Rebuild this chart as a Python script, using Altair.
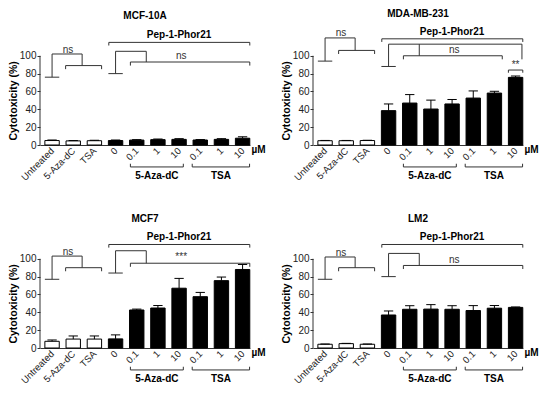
import json
import altair as alt
import pandas as pd

# ---------------- data ----------------
categories = ["Untreated", "5-Aza-dC", "TSA", "0", "0.1", "1", "10", "0.1", "1", "10"]
treated = [False, False, False, True, True, True, True, True, True, True]

mcf10a_vals = [5.0, 4.6, 4.8, 5.0, 5.5, 6.0, 6.3, 5.6, 6.3, 7.6]
mcf10a_errs = [0.6, 0.4, 0.5, 0.6, 0.5, 0.7, 0.8, 0.5, 0.8, 1.6]

mda_vals = [4.8, 4.8, 5.0, 38.5, 47.0, 40.3, 46.0, 52.6, 58.2, 75.8]
mda_errs = [0.3, 0.3, 0.3, 7.5, 9.5, 10.0, 5.0, 8.0, 2.0, 1.5]

mcf7_vals = [7.5, 10.0, 10.0, 10.2, 42.6, 44.8, 67.0, 57.5, 75.5, 88.0]
mcf7_errs = [1.5, 3.5, 3.5, 4.5, 1.0, 2.8, 11.0, 4.8, 4.0, 5.6]

lm2_vals = [4.2, 4.9, 4.2, 37.0, 43.4, 43.6, 43.4, 42.0, 44.6, 45.5]
lm2_errs = [0.3, 0.3, 0.3, 4.5, 4.0, 5.0, 4.0, 5.5, 3.0, 0.5]

# significance bracket heights (y units): [low, top, group] / [low, top, group, pep]
mcf10a_left = [76, 102, 89]
mcf10a_right = [80, 105, 93, 115]
mda_left = [94, 120, 106]
mda_right = [88, 113, 100, 119]
mcf7_left = [77, 103, 90]
mcf7_right = [84, 109, 95, 116]
lm2_left = [77, 102, 90]
lm2_right = [80, 106, 92.5, 116]

group_labels = ["5-Aza-dC", "TSA"]
pep_label = "Pep-1-Phor21"
unit_label = "µM"

# ---------------- layout ----------------
W, H = 210, 116
XD = [-0.57, 9.35]
YD = [0, 130]
HB = 0.34          # half bar width (in category units)
FONT = "Liberation Sans"
LINE = "#333333"

label_expr = json.dumps(categories) + "[datum.value]"

xs = alt.Scale(domain=XD, nice=False, zero=False)
ys = alt.Scale(domain=YD, nice=False, zero=False)
xaxis = alt.Axis(values=list(range(10)), labelExpr=label_expr, labelAngle=-45,
                 labelAlign="right", labelBaseline="middle", labelPadding=4,
                 labelFontSize=9.5, labelColor="#222222", labelOverlap=False,
                 labelFlush=False, ticks=False, domainColor=LINE,
                 grid=False, title=None)
ppu = H / (YD[1] - YD[0])
yaxis = alt.Axis(values=[0, 20, 40, 60, 80, 100], domain=False, tickSize=3,
                 tickColor=LINE, labelFontSize=10, labelColor="#222222",
                 labelPadding=1, labelOverlap=False, labelFlush=False, grid=False,
                 title="Cytotoxicity (%)",
                 titleFontSize=10.5, titleFontWeight="bold", titlePadding=1,
                 titleY=H - 50 * ppu, titleColor="black")


def X(field):
    return alt.X(field, type="quantitative", scale=xs, axis=xaxis, title=None)


def Y(field):
    return alt.Y(field, type="quantitative", scale=ys, axis=yaxis, title=None)


def segments(left, right, sig, extra_star=None):
    segs = []

    def h(x1, x2, y):
        segs.append(dict(x=x1, x2=x2, y=y, y2=y))

    def v(x, y1, y2):
        segs.append(dict(x=x, x2=x, y=y1, y2=y2))

    lo, top, grp = left
    h(0 - HB, 0 + HB, lo)
    v(0, lo, top)
    h(0, 1.42, top)
    v(1.42, top, grp)
    h(1 - 0.36, 2 + HB, grp)
    v(1 - 0.36, grp, grp - 4)
    v(2 + HB, grp, grp - 4)

    rlo, rtop, rgrp, pep = right
    h(3 - HB, 3 + HB, rlo)
    v(3, rlo, rtop)
    gx2 = 8.37 if extra_star else 9 + HB
    h(3, 9.3 if extra_star else 4.45, rtop)
    v(4.45, rtop, rgrp)
    h(3.7, gx2, rgrp)
    v(3.7, rgrp, rgrp - 4)
    v(gx2, rgrp, rgrp - 4)
    if extra_star:
        v(9.3, rtop, 96)
        h(9 - HB, 9 + HB, extra_star)
        v(9 - HB, extra_star, extra_star - 3)
        v(9 + HB, extra_star, extra_star - 3)

    # Pep-1-Phor21 bracket
    h(3 - 0.32, 9 + HB, pep)
    v(3 - 0.32, pep, pep - 3.5)
    v(9 + HB, pep, pep - 3.5)

    # group brackets under the axis
    below = []
    for a, b in [(3.7, 6.2), (6.62, 9.33)]:
        below.append(dict(x=a, x2=b, y=-24.6, y2=-24.6))
        below.append(dict(x=a, x2=a, y=-24.6, y2=-21))
        below.append(dict(x=b, x2=b, y=-24.6, y2=-21))

    texts = [dict(x=0.75, y=top + 5, t="ns"),
             dict(x=6.1, y=rgrp + (7 if "*" in sig else 6.5), t=sig)]
    if extra_star:
        texts.append(dict(x=9.0, y=90, t="**"))
    bold = [dict(x=6.0, y=pep + 8, t=pep_label),
            dict(x=4.95, y=-35, t=group_labels[0]),
            dict(x=7.98, y=-35, t=group_labels[1]),
            dict(x=9.75, y=-6, t=unit_label)]
    return (pd.DataFrame(segs), pd.DataFrame(below),
            pd.DataFrame(texts), pd.DataFrame(bold))


def panel(title, vals, errs, left, right, sig, extra_star=None):
    df = pd.DataFrame({"idx": list(range(len(categories))), "cat": categories,
                       "val": vals, "err": errs,
                       "grp": ["pep" if t else "ctrl" for t in treated]})
    base = alt.Chart(df).transform_calculate(
        lo=f"datum.idx - {HB}", hi=f"datum.idx + {HB}",
        top="datum.val + datum.err", zero="0",
        clo="datum.idx - 0.22", chi="datum.idx + 0.22")

    errbar = base.mark_rule(color="black", strokeWidth=1).encode(
        x=X("idx"), y=Y("val"), y2=alt.Y2("top"))
    caps = base.mark_rule(color="black", strokeWidth=1).encode(
        x=X("clo"), x2=alt.X2("chi"), y=Y("top"))
    bars = base.mark_bar(stroke="black", strokeWidth=1).encode(
        x=X("lo"), x2=alt.X2("hi"), y=Y("val"), y2=alt.Y2("zero"),
        fill=alt.Fill("grp:N", scale=alt.Scale(domain=["ctrl", "pep"],
                                               range=["white", "black"]),
                      legend=None))

    segs, below, texts, bold = segments(left, right, sig, extra_star)
    brackets = alt.Chart(segs).mark_rule(color=LINE, strokeWidth=1).encode(
        x=X("x"), x2=alt.X2("x2"), y=Y("y"), y2=alt.Y2("y2"))
    under = alt.Chart(below).mark_rule(color=LINE, strokeWidth=1).encode(
        x=X("x"), x2=alt.X2("x2"), y=Y("y"), y2=alt.Y2("y2"))
    sig_text = alt.Chart(texts).mark_text(fontSize=10, color="#333333",
                                          baseline="middle", font=FONT).encode(
        x=X("x"), y=Y("y"), text="t:N")
    bold_text = alt.Chart(bold).mark_text(fontSize=10, fontWeight="bold",
                                          color="black", baseline="middle",
                                          font=FONT).encode(
        x=X("x"), y=Y("y"), text="t:N")
    yline = alt.Chart(pd.DataFrame({"a": [0], "b": [100]})).mark_rule(
        color=LINE, strokeWidth=1).encode(
        x=alt.value(0), y=Y("a"), y2=alt.Y2("b"))

    return alt.layer(bars, errbar, caps, brackets, under, sig_text, bold_text,
                     yline).properties(
        width=W, height=H,
        title=alt.Title(title, fontSize=10, fontWeight="bold", font=FONT,
                        offset=8, color="black"))


p1 = panel("MCF-10A", mcf10a_vals, mcf10a_errs, mcf10a_left, mcf10a_right, "ns")
p2 = panel("MDA-MB-231", mda_vals, mda_errs, mda_left, mda_right, "ns", extra_star=84)
p3 = panel("MCF7", mcf7_vals, mcf7_errs, mcf7_left, mcf7_right, "***")
p4 = panel("LM2", lm2_vals, lm2_errs, lm2_left, lm2_right, "ns")

chart = alt.concat(p1, p2, p3, p4, columns=2,
                   spacing=alt.RowColnumber(row=87, column=63),
                   bounds="flush").properties(
    padding={"left": 0, "top": 0, "right": 0, "bottom": 0}
).configure(font=FONT).configure_view(stroke=None).configure_axis(
    labelFont=FONT, titleFont=FONT)

chart.save("out.html", embed_options={"renderer": "svg", "actions": False})
